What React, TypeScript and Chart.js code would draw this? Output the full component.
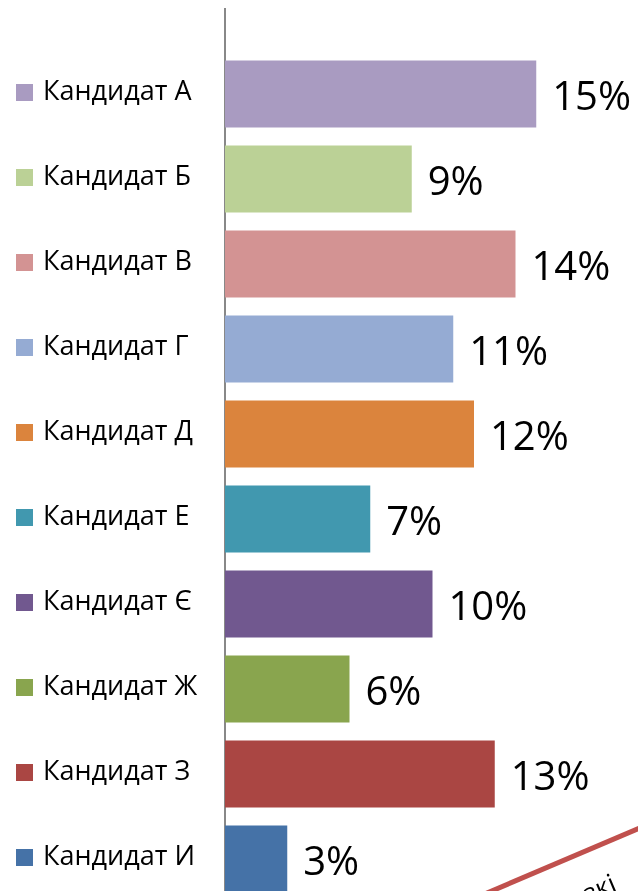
import React, { useEffect, useRef } from 'react';
import { Chart, registerables } from 'chart.js';

Chart.register(...registerables);

const categories = [
  'Кандидат А',
  'Кандидат Б',
  'Кандидат В',
  'Кандидат Г',
  'Кандидат Д',
  'Кандидат Е',
  'Кандидат Є',
  'Кандидат Ж',
  'Кандидат З',
  'Кандидат И',
];
const values = [15, 9, 14, 11, 12, 7, 10, 6, 13, 3];
const colors = [
  '#A99BC1',
  '#BBD196',
  '#D39393',
  '#95ABD3',
  '#DB843D',
  '#4198AF',
  '#71588F',
  '#89A54E',
  '#AA4643',
  '#4572A7',
];

const FONT = '"Open Sans", "Noto Sans", "DejaVu Sans", sans-serif';

// blank slots above and below so the axis line runs past the bars
const labels = ['', ...categories, ''];
const paddedValues: (number | null)[] = [null, ...values, null];
const paddedColors = ['#ffffff', ...colors, '#ffffff'];

const valueLabels = {
  id: 'valueLabels',
  afterDatasetsDraw(chart: any) {
    const meta = chart.getDatasetMeta(0);
    const ctx = chart.ctx;
    ctx.save();
    ctx.font = `40px ${FONT}`;
    ctx.fillStyle = '#000000';
    ctx.textBaseline = 'alphabetic';
    ctx.textAlign = 'left';
    meta.data.forEach((bar: any, i: number) => {
      const v = paddedValues[i];
      if (v == null) return;
      const { x, y } = bar.getProps(['x', 'y'], true);
      ctx.fillText(`${v}%`, x + 16, y + 15.5);
    });
    ctx.restore();
  },
};

const legendSquares = {
  id: 'legendSquares',
  afterDraw(chart: any) {
    const s = chart.scales.y;
    const ctx = chart.ctx;
    ctx.save();
    labels.forEach((l, i) => {
      if (!l) return;
      const y = s.getPixelForValue(i) - 2;
      ctx.fillStyle = paddedColors[i];
      ctx.fillRect(s.left - 27, y - 8, 17, 17);
    });
    ctx.restore();
  },
};

export default function App() {
  const ref = useRef<HTMLCanvasElement | null>(null);

  useEffect(() => {
    if (!ref.current) return;
    const chart = new Chart(ref.current, {
      type: 'bar',
      data: {
        labels,
        datasets: [
          {
            data: paddedValues as any,
            backgroundColor: paddedColors,
            barPercentage: 0.79,
            categoryPercentage: 1,
          },
        ],
      },
      options: {
        indexAxis: 'y',
        animation: false,
        responsive: false,
        layout: { padding: { left: 43, top: 9, right: 0, bottom: 6 } },
        plugins: {
          legend: { display: false },
          tooltip: { enabled: false },
        },
        scales: {
          x: { display: false, min: 0, max: 20 },
          y: {
            type: 'category',
            offset: false,
            grid: { display: false },
            border: { display: true, color: '#888888', width: 2 },
            ticks: {
              crossAlign: 'far',
              padding: 0,
              autoSkip: false,
              labelOffset: -2,
              color: '#000000',
              font: { family: FONT, size: 27 },
            },
            afterFit: (s: any) => {
              s.width = 182;
              s.paddingTop = 0;
              s.paddingBottom = 0;
            },
          },
        },
      },
      plugins: [valueLabels, legendSquares],
    });
    return () => chart.destroy();
  }, []);

  return (
    <div
      style={{
        position: 'absolute',
        left: 0,
        top: 0,
        width: 638,
        height: 891,
        overflow: 'hidden',
        background: '#ffffff',
      }}
    >
      <canvas ref={ref} width={640} height={950} style={{ display: 'block' }} />
      <svg
        width={638}
        height={891}
        style={{ position: 'absolute', left: 0, top: 0, pointerEvents: 'none' }}
      >
        <line x1={480} y1={896} x2={642} y2={827} stroke="#C0504D" strokeWidth={5} />
        <text
          x={588}
          y={903}
          fontFamily={FONT}
          fontSize={26}
          fill="#000000"
          transform="rotate(-23 588 903)"
        >
          зкі
        </text>
      </svg>
    </div>
  );
}
